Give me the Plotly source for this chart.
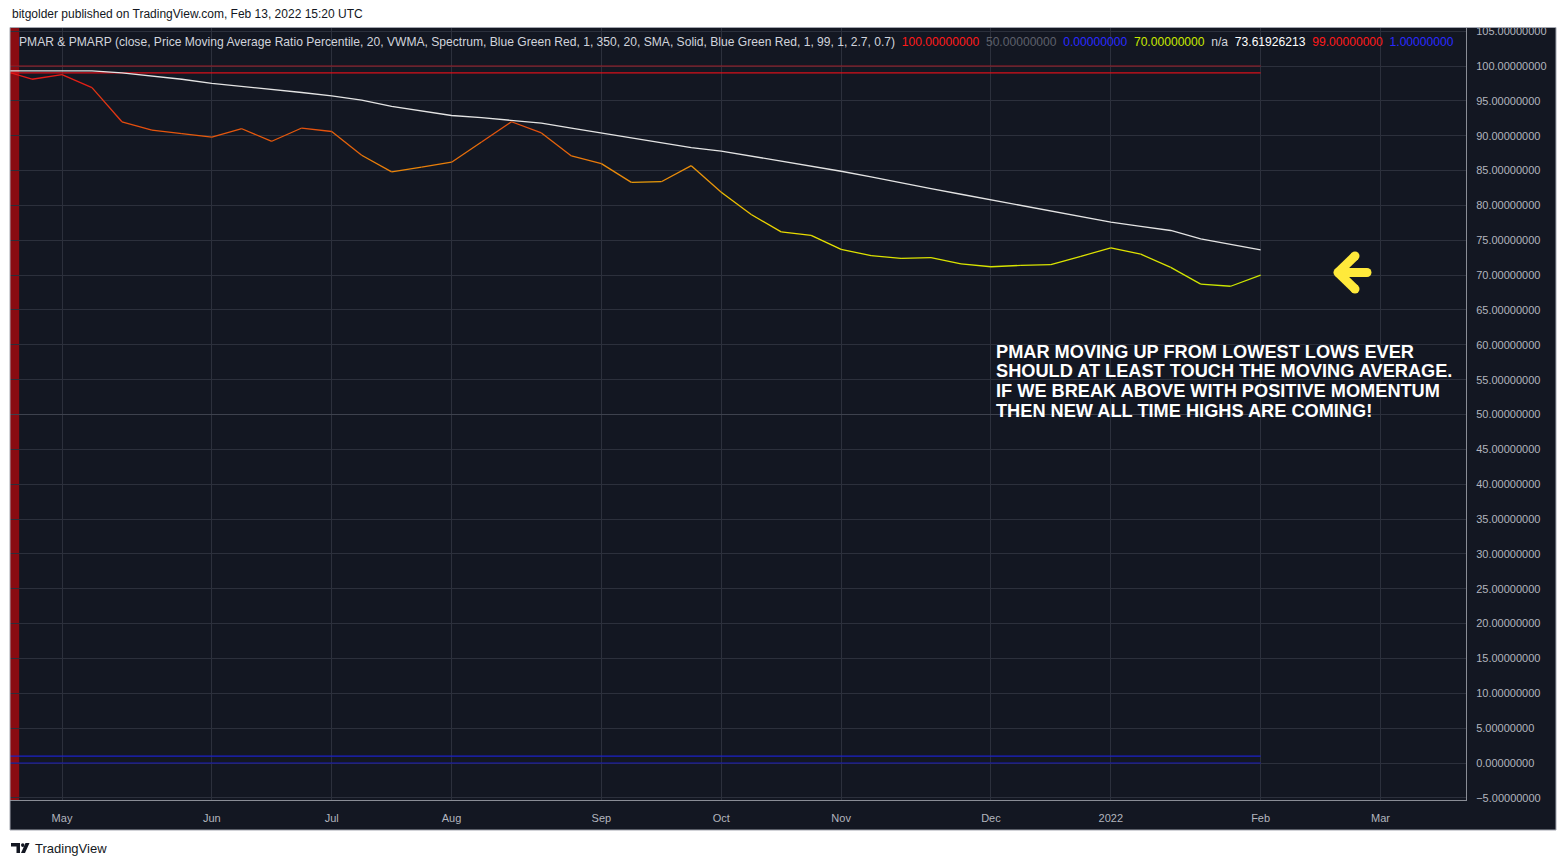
import pandas as pd
import plotly.graph_objects as go

# ---------------- data ----------------
WEEK_START = "2021-04-19"
N_WEEKS = 43
PMARP = [99.4, 98.1, 98.75, 96.9, 92.0, 90.8, 90.3, 89.8, 91.0, 89.2, 91.1, 90.6,
         87.2, 84.8, 85.5, 86.2, 89.1, 92.0, 90.4, 87.1, 86.0, 83.3, 83.4, 85.7,
         81.9, 78.7, 76.2, 75.7, 73.7, 72.8, 72.4, 72.5, 71.6, 71.2, 71.4, 71.5,
         72.7, 73.9, 73.0, 71.1, 68.7, 68.4, 70.0]
MA = [99.3, 99.3, 99.3, 99.3, 99.0, 98.6, 98.1, 97.5, 97.1, 96.6, 96.2, 95.7,
      95.1, 94.2, 93.5, 92.9, 92.6, 92.25, 91.8, 91.1, 90.4, 89.6, 88.9, 88.3,
      87.8, 87.1, 86.4, 85.7, 84.9, 84.1, 83.2, 82.4, 81.6, 80.8, 80.0, 79.2,
      78.4, 77.6, 77.0, 76.4, 75.2, 74.4, 73.61926213]
LEVEL_TOP = 100
LEVEL_MID = 50
LEVEL_BOTTOM = 0
LEVEL_HIGH = 99
LEVEL_LOW = 1
TICK_DATES = ["2021-05-03", "2021-06-07", "2021-07-05", "2021-08-02", "2021-09-06",
              "2021-10-04", "2021-11-01", "2021-12-06", "2022-01-03", "2022-02-07",
              "2022-03-07"]
TICK_LABELS = ["May", "Jun", "Jul", "Aug", "Sep", "Oct", "Nov", "Dec", "2022", "Feb", "Mar"]
Y_TICKS = list(range(-5, 106, 5))
LEGEND_TITLE = ("PMAR & PMARP (close, Price Moving Average Ratio Percentile, 20, VWMA, "
                "Spectrum, Blue Green Red, 1, 350, 20, SMA, Solid, Blue Green Red, 1, 99, 1, 2.7, 0.7)")
HEADER = "bitgolder published on TradingView.com, Feb 13, 2022 15:20 UTC"
NOTE_LINES = ["PMAR MOVING UP FROM LOWEST LOWS EVER",
              "SHOULD AT LEAST TOUCH THE MOVING AVERAGE.",
              "IF WE BREAK ABOVE WITH POSITIVE MOMENTUM",
              "THEN NEW ALL TIME HIGHS ARE COMING!"]

dates = pd.date_range(WEEK_START, periods=N_WEEKS, freq="7D")

# ---------------- style ----------------
BG = "#131722"
GRID = "#2c303c"
TXT = "#b2b5be"
FONT = "Liberation Sans"
COLOR_STOPS = [(68, (200, 230, 0)), (75, (232, 226, 0)), (80, (238, 196, 0)),
               (83, (235, 160, 10)), (85, (235, 135, 10)), (90, (230, 90, 12)),
               (95, (228, 50, 20)), (100, (230, 16, 24))]


def spectrum(v):
    if v <= COLOR_STOPS[0][0]:
        c = COLOR_STOPS[0][1]
    elif v >= COLOR_STOPS[-1][0]:
        c = COLOR_STOPS[-1][1]
    else:
        for (v0, c0), (v1, c1) in zip(COLOR_STOPS[:-1], COLOR_STOPS[1:]):
            if v0 <= v <= v1:
                t = (v - v0) / (v1 - v0)
                c = tuple(c0[k] + (c1[k] - c0[k]) * t for k in range(3))
                break
    return "rgb(%d,%d,%d)" % tuple(int(round(x)) for x in c)


# pixel geometry of the plot area in the page
L, R, T, B = 10, 1466, 27, 800
W_PLOT, H_PLOT = R - L, B - T


def PX(x):
    return (x - L) / W_PLOT


def PY(y):
    return (B - y) / H_PLOT


fig = go.Figure()

# horizontal level lines (span the data range)
for lvl, col in [(LEVEL_MID, "#3e424e"), (LEVEL_TOP, "#a01c26"), (LEVEL_HIGH, "#d8101a"),
                 (LEVEL_LOW, "#1c22c8"), (LEVEL_BOTTOM, "#1a1ab8")]:
    fig.add_trace(go.Scatter(x=[dates[0], dates[-1]], y=[lvl, lvl], mode="lines",
                             line=dict(color=col, width=1.2), hoverinfo="skip",
                             showlegend=False))

# moving average
fig.add_trace(go.Scatter(x=dates, y=MA, mode="lines",
                         line=dict(color="#e4e4e4", width=1.3), showlegend=False))

# PMAR line, coloured per segment by value
for i in range(len(PMARP) - 1):
    col = spectrum((PMARP[i] + PMARP[i + 1]) / 2)
    fig.add_trace(go.Scatter(x=[dates[i], dates[i + 1]], y=[PMARP[i], PMARP[i + 1]],
                             mode="lines", line=dict(color=col, width=1.3),
                             showlegend=False))

shapes = []
# dark chart frame (incl. axis bands)
shapes.append(dict(type="rect", xref="paper", yref="paper", x0=PX(10), x1=PX(1556),
                   y0=PY(830), y1=PY(27), fillcolor=BG, line=dict(width=0), layer="below"))
shapes.append(dict(type="rect", xref="paper", yref="paper", x0=PX(10), x1=PX(1556),
                   y0=PY(830), y1=PY(27.5), fillcolor="rgba(0,0,0,0)",
                   line=dict(color="#a3a6af", width=1), layer="above"))

# highlighted weeks (PMARP above the high level)
half = pd.Timedelta(days=3.5)
for d, v in zip(dates, PMARP):
    if v >= LEVEL_HIGH:
        shapes.append(dict(type="rect", xref="x", yref="paper", x0=d - half,
                           x1=d + half + pd.Timedelta(days=0.5), y0=0, y1=1,
                           fillcolor="#8a0c12", line=dict(width=0), layer="below"))

# yellow arrow
YEL = "#ffe93b"
tip = (1338, 272.5)
ends = [(1367, 272.5), (1355, 256), (1355, 289)]
for e in ends:
    shapes.append(dict(type="line", xref="paper", yref="paper", x0=PX(tip[0]), y0=PY(tip[1]),
                       x1=PX(e[0]), y1=PY(e[1]), line=dict(color=YEL, width=9)))
rr = 4.5
for (cx, cy) in ends + [tip]:
    shapes.append(dict(type="circle", xref="paper", yref="paper", x0=PX(cx - rr), x1=PX(cx + rr),
                       y0=PY(cy + rr), y1=PY(cy - rr), fillcolor=YEL, line=dict(width=0)))

# TradingView logo (bottom-left)
LOGO = "#131722"
def poly(pts):
    return "M " + " L ".join("%f,%f" % (PX(x), PY(y)) for x, y in pts) + " Z"
shapes.append(dict(type="path", xref="paper", yref="paper",
                   path=poly([(11, 843), (20, 843), (20, 853), (16.5, 853), (16.5, 846.5), (11, 846.5)]),
                   fillcolor=LOGO, line=dict(width=0)))
shapes.append(dict(type="circle", xref="paper", yref="paper", x0=PX(21), x1=PX(24.5),
                   y0=PY(847), y1=PY(843.2), fillcolor=LOGO, line=dict(width=0)))
shapes.append(dict(type="path", xref="paper", yref="paper",
                   path=poly([(25.5, 843), (29.5, 843), (25, 853), (21, 853)]),
                   fillcolor=LOGO, line=dict(width=0)))

annotations = []
annotations.append(dict(text=HEADER, xref="paper", yref="paper", x=PX(10), y=PY(14),
                        xanchor="left", yanchor="middle", showarrow=False,
                        font=dict(family=FONT, size=12, color="#131722")))
annotations.append(dict(text="TradingView", xref="paper", yref="paper", x=PX(33), y=PY(848),
                        xanchor="left", yanchor="middle", showarrow=False,
                        font=dict(family=FONT, size=13, color="#131722")))

fmt = lambda v: "%.8f" % v
parts = [(LEGEND_TITLE, "#d1d4dc"), (fmt(LEVEL_TOP), "#ff1a1a"), (fmt(LEVEL_MID), "#5d606b"),
         (fmt(LEVEL_BOTTOM), "#2a2aff"), (fmt(PMARP[-1]), "#c8e800"), ("n/a", "#d1d4dc"),
         (fmt(MA[-1]), "#ffffff"), (fmt(LEVEL_HIGH), "#ff1a1a"), (fmt(LEVEL_LOW), "#2a2aff")]
legend_html = "&nbsp;&nbsp;".join('<span style="color:%s">%s</span>' % (c, t) for t, c in parts)
annotations.append(dict(text=legend_html, xref="paper", yref="paper", x=PX(17), y=PY(41.5),
                        xanchor="left", yanchor="middle", showarrow=False,
                        font=dict(family=FONT, size=12.1, color="#d1d4dc")))

for k, line in enumerate(NOTE_LINES):
    annotations.append(dict(text="<b>%s</b>" % line, xref="paper", yref="paper",
                            x=PX(994), y=PY(351.5 + 19.7 * k), xanchor="left", yanchor="middle",
                            showarrow=False, font=dict(family=FONT, size=18.2, color="#ffffff")))

x0 = pd.Timestamp(TICK_DATES[0])
px_per_day = (1380.5 - 62) / (pd.Timestamp(TICK_DATES[-1]) - x0).days
x_range = [x0 - pd.Timedelta(days=(62 - L) / px_per_day),
           x0 + pd.Timedelta(days=(R - 62) / px_per_day)]
unit_px = (763 - 66) / 100.0
y_range = [0 - (B - 763) / unit_px, 100 + (66 - T) / unit_px]

fig.update_layout(
    width=1566, height=866,
    margin=dict(l=L, r=1566 - R, t=T, b=866 - B, pad=0),
    paper_bgcolor="#ffffff", plot_bgcolor=BG,
    showlegend=False, shapes=shapes, annotations=annotations,
    xaxis=dict(type="date", range=x_range, tickvals=TICK_DATES, ticktext=TICK_LABELS,
               showgrid=True, gridcolor=GRID, gridwidth=1, zeroline=False,
               ticks="outside", ticklen=8, tickcolor="rgba(0,0,0,0)",
               tickfont=dict(family=FONT, size=11, color=TXT),
               showline=True, linecolor="#8a8d96", linewidth=1),
    yaxis=dict(side="right", range=y_range, tickvals=Y_TICKS, tickformat=".8f",
               showgrid=True, gridcolor=GRID, gridwidth=1, zeroline=False,
               ticks="outside", ticklen=7, tickcolor="rgba(0,0,0,0)",
               tickfont=dict(family=FONT, size=11, color=TXT),
               showline=True, linecolor="#8a8d96", linewidth=1),
)

fig.write_html("out.html", config={"displayModeBar": False},
               post_script="document.body.style.margin='0px';document.body.style.overflow='hidden';")
